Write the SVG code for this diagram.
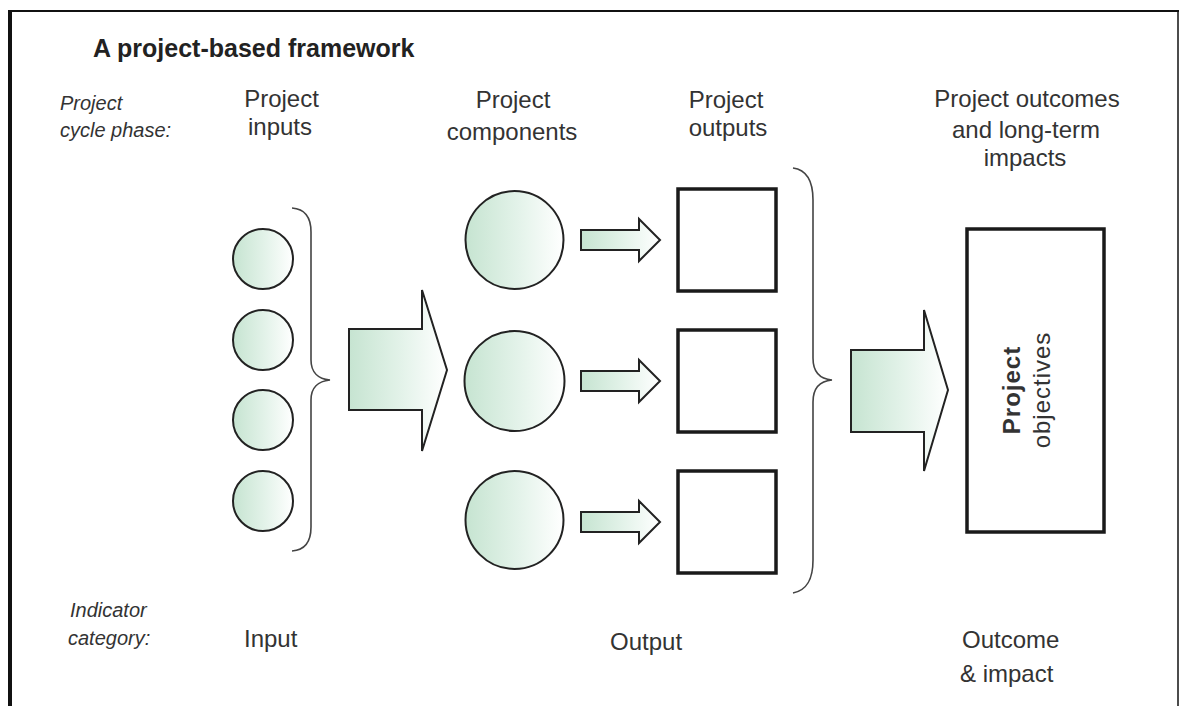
<svg xmlns="http://www.w3.org/2000/svg" width="1179" height="706" viewBox="0 0 1179 706">
<defs>
<linearGradient id="g" x1="0" y1="0" x2="1" y2="0">
<stop offset="0" stop-color="#c6e4d1"/>
<stop offset="0.55" stop-color="#e4f3ea"/>
<stop offset="1" stop-color="#ffffff"/>
</linearGradient>
<style>
.t{font-family:"Liberation Sans",Arial,sans-serif;font-size:24px;fill:#333;}
.tm{text-anchor:middle;}
.it{font-family:"Liberation Sans",Arial,sans-serif;font-size:20px;font-style:italic;fill:#333;}
.title{font-family:"Liberation Sans",Arial,sans-serif;font-size:25px;font-weight:bold;fill:#222;}
.node{fill:url(#g);stroke:#222;stroke-width:2;}
.box{fill:#fff;stroke:#1a1a1a;stroke-width:3.5;}
.arrow{fill:url(#g);stroke:#222;stroke-width:2;stroke-linejoin:miter;}
.brace{fill:none;stroke:#444;stroke-width:1.6;}
.frame{stroke:#111;fill:none;}
</style>
</defs>
<rect width="1179" height="706" fill="#fff"/>
<g id="frame">
<line class="frame" x1="8" y1="11" x2="1179" y2="11" stroke-width="2"/>
<line class="frame" x1="10" y1="10" x2="10" y2="706" stroke-width="4"/>
<line class="frame" x1="1178" y1="10" x2="1178" y2="706" stroke-width="1.5"/>
</g>
<g id="labels">
<text class="title" x="93" y="57">A project-based framework</text>
<text class="it" x="60" y="110">Project</text>
<text class="it" x="60" y="137">cycle phase:</text>
<text class="t tm" x="281.5" y="107">Project</text>
<text class="t tm" x="280" y="135">inputs</text>
<text class="t tm" x="513" y="108">Project</text>
<text class="t tm" x="512" y="140">components</text>
<text class="t tm" x="726" y="108">Project</text>
<text class="t tm" x="728" y="136">outputs</text>
<text class="t tm" x="1027" y="107">Project outcomes</text>
<text class="t tm" x="1026" y="138">and long-term</text>
<text class="t tm" x="1025" y="166">impacts</text>
<text class="it" x="70" y="617">Indicator</text>
<text class="it" x="68" y="645">category:</text>
<text class="t" x="244" y="647">Input</text>
<text class="t" x="610" y="650">Output</text>
<text class="t" x="962" y="648">Outcome</text>
<text class="t" x="960" y="682">&amp; impact</text>
</g>
<g id="input-1"><circle class="node" cx="263" cy="259" r="30"/></g>
<g id="input-2"><circle class="node" cx="263" cy="340" r="30"/></g>
<g id="input-3"><circle class="node" cx="263" cy="420" r="30"/></g>
<g id="input-4"><circle class="node" cx="263" cy="501" r="30"/></g>
<g id="component-1"><circle class="node" cx="514.5" cy="240" r="49"/></g>
<g id="component-2"><circle class="node" cx="514.5" cy="381" r="50"/></g>
<g id="component-3"><circle class="node" cx="514.5" cy="520" r="49"/></g>
<g id="output-1"><rect class="box" x="678" y="189" width="98" height="102"/></g>
<g id="output-2"><rect class="box" x="678" y="330" width="98" height="102"/></g>
<g id="output-3"><rect class="box" x="678" y="471" width="98" height="102"/></g>
<g id="objectives">
<rect class="box" x="967" y="229" width="137" height="303"/>
<text class="t tm" transform="translate(1020,390) rotate(-90)" font-weight="bold" letter-spacing="1" fill="#222">Project</text>
<text class="t tm" transform="translate(1050,390) rotate(-90)" letter-spacing="1" fill="#222">objectives</text>
</g>
<g id="connectors">
<path class="brace" d="M292,208 C306,209 311,218 311,232 L311,360 C311,372 318,379 330,380 C318,381 311,388 311,400 L311,527 C311,541 306,550 292,551"/>
<path class="brace" d="M793,168 C808,170 813,182 813,200 L813,358 C813,372 820,379 832,380 C820,381 813,388 813,402 L813,560 C813,578 808,590 793,593"/>
<polygon class="arrow" points="349,329 422,329 422,290 447,370 422,451 422,410 349,410"/>
<polygon class="arrow" points="851,350 924,350 924,310 948,390 924,471 924,432 851,432"/>
<polygon class="arrow" points="581,230 639,230 639,219 660,240 639,261 639,250 581,250"/>
<polygon class="arrow" points="581,371 639,371 639,360 660,381 639,402 639,391 581,391"/>
<polygon class="arrow" points="581,512 639,512 639,501 660,522 639,543 639,532 581,532"/>
</g>
</svg>
